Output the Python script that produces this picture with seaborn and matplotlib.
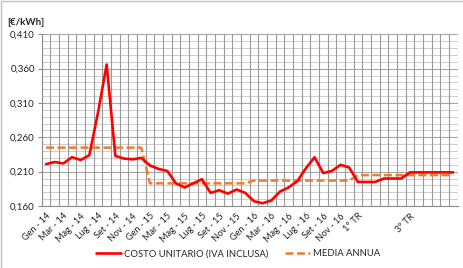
import numpy as np
import pandas as pd
import matplotlib
matplotlib.use("Agg")
import matplotlib.pyplot as plt
import seaborn as sns
from matplotlib.lines import Line2D

# ---- data ----
months = ["Gen", "Feb", "Mar", "Apr", "Mag", "Giu", "Lug", "Ago", "Set", "Ott", "Nov", "Dic"]
years = ["14", "15", "16"]
quarter_labels = ["1° TR", "", "", "2° TR", "", "", "3° TR", "", "", "4° TR", "", ""]
categories = [f"{m} - {y}" for y in years for m in months] + quarter_labels

costo_unitario = [
    0.221, 0.224, 0.222, 0.231, 0.227, 0.234, 0.296, 0.366, 0.233, 0.229, 0.228, 0.230,
    0.219, 0.214, 0.211, 0.193, 0.187, 0.193, 0.199, 0.179, 0.183, 0.178, 0.184, 0.179,
    0.167, 0.164, 0.168, 0.181, 0.187, 0.196, 0.215, 0.231, 0.208, 0.211, 0.220, 0.216,
    0.195, 0.195, 0.195, 0.200, 0.200, 0.200, 0.209, 0.209, 0.209, 0.209, 0.209, 0.209,
]
media_annua = [0.245] * 12 + [0.193] * 12 + [0.197] * 12 + [0.205] * 12

y_ticks = [0.160, 0.210, 0.260, 0.310, 0.360, 0.410]
series_names = ["COSTO UNITARIO (IVA INCLUSA)", "MEDIA ANNUA"]

df = pd.DataFrame({
    "idx": np.arange(len(categories)),
    series_names[0]: costo_unitario,
    series_names[1]: media_annua,
})

sns.set_style("white")
plt.rcParams["font.family"] = ["Lato", "DejaVu Sans"]

W, H = 463, 268
fig = plt.figure(figsize=(W / 100, H / 100), dpi=100)
left, right, top, bottom = 41.7, 457.5, 34.3, 206.0
ax = fig.add_axes([left / W, 1 - bottom / H, (right - left) / W, (bottom - top) / H])

n = len(categories)
# grid
for yv in np.arange(0.160, 0.4101, 0.010):
    major = any(abs(yv - t) < 1e-6 for t in y_ticks)
    ax.axhline(yv, color="#a6a6a6" if major else "#cfcfcf", lw=0.8, zorder=0)
for xv in np.arange(-0.5, n, 1.0):
    ax.axvline(xv, color="#9a9a9a", lw=0.8, zorder=0)

sns.lineplot(data=df, x="idx", y=series_names[0], ax=ax, color="#ff0000", lw=1.9, zorder=3)
sns.lineplot(data=df, x="idx", y=series_names[1], ax=ax, color="#ed7d31", lw=1.8,
             dashes=False, zorder=2).lines[-1].set_dashes([3.2, 1.4])

ax.set_xlim(-0.5, n - 0.5)
ax.set_ylim(0.160, 0.410)
ax.set_xlabel("")
ax.set_ylabel("")
ax.set_yticks(y_ticks)
ax.set_yticklabels([f"{v:.3f}".replace(".", ",") for v in y_ticks], fontsize=7, color="#222222")
ax.set_xticks(np.arange(0, n, 2))
ax.set_xticklabels([categories[i] for i in range(0, n, 2)], rotation=45, ha="right",
                   rotation_mode="anchor", fontsize=6.6, color="#222222")
ax.set_xticks(np.arange(-0.5, n, 1.0), minor=True)
ax.tick_params(axis="x", which="major", length=0, pad=4)
ax.tick_params(axis="x", which="minor", length=3, color="#8c8c8c", width=0.8, direction="out")
ax.tick_params(axis="y", length=3, color="#8c8c8c", width=0.8, pad=2, direction="out", left=True)
for s in ["top", "right"]:
    ax.spines[s].set_visible(False)
ax.spines["left"].set_color("#8c8c8c")
ax.spines["bottom"].set_color("#8c8c8c")
ax.spines["left"].set_linewidth(0.8)
ax.spines["bottom"].set_linewidth(0.8)

fig.text(7 / W, 1 - 22.5 / H, "[€/kWh]", fontsize=7, fontweight="bold", va="center", ha="left",
         color="#222222")

handles = [Line2D([0], [0], color="#ff0000", lw=1.9),
           Line2D([0], [0], color="#ed7d31", lw=1.8, dashes=[3.2, 1.4])]
fig.legend(handles, series_names, loc="center", bbox_to_anchor=(238 / W, 1 - 254 / H),
           ncol=2, frameon=False, fontsize=6.8, handlelength=2.7, handletextpad=0.3,
           columnspacing=1.7, borderaxespad=0)

# chart border
fig.add_artist(Line2D([1 / W, 1 / W], [0, 1 - 1 / H], color="#bfbfbf", lw=1.0))
fig.add_artist(Line2D([1 / W, 1], [1 - 1 / H, 1 - 1 / H], color="#bfbfbf", lw=1.0))

fig.savefig("out.png", dpi=100)
